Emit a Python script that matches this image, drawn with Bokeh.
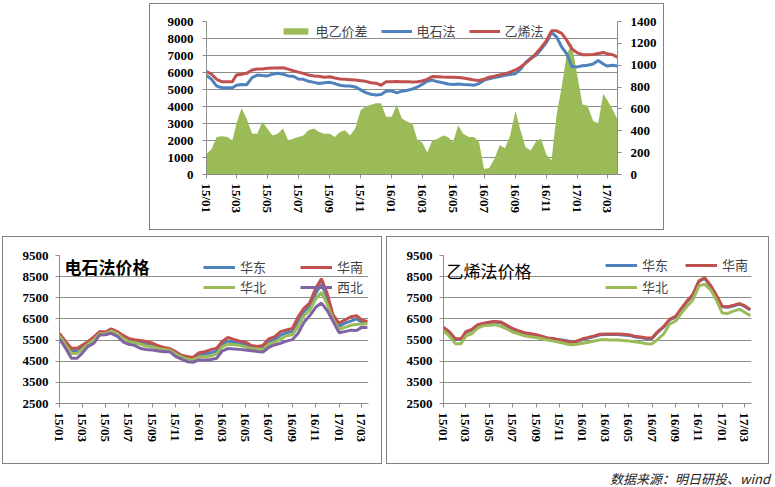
import pandas as pd
from bokeh.plotting import figure
from bokeh.models import (ColumnDataSource, LinearAxis, Range1d, DatetimeTickFormatter,
                          FixedTicker, Legend, LegendItem, Label, Div, Spacer)
from bokeh.layouts import column, row
from bokeh.embed import file_html
from bokeh.resources import INLINE

# ------------------------------------------------------------------ data
MONTHS = pd.date_range("2015-01-01", "2017-03-01", freq="MS")
TOP_DATES = [m + pd.Timedelta(days=k) for m in MONTHS for k in (0, 10, 20)]
LOW_DATES = [m + pd.Timedelta(days=k) for m in MONTHS for k in (0, 15)]
TICK_DATES = list(pd.date_range("2015-01-01", "2017-03-01", freq="2MS"))

# top chart: 电乙价差 (right axis), 电石法, 乙烯法
SPREAD = [187, 233, 342, 350, 342, 311, 467, 607, 513, 373, 373, 482,
          420, 358, 373, 420, 311, 327, 342, 358, 404, 420, 389, 373,
          373, 342, 389, 404, 358, 420, 591, 622, 638, 653, 653, 529,
          529, 638, 513, 482, 467, 311, 296, 202, 311, 327, 358, 342,
          296, 451, 373, 342, 342, 300, 50, 60, 140, 270, 240, 350,
          580, 400, 250, 220, 300, 330, 180, 130, 550, 800, 1100, 1200,
          900, 640, 630, 490, 470, 740, 680, 600, 500]
CARBIDE = [5820, 5600, 5200, 5100, 5100, 5100, 5250, 5300, 5280, 5700, 5850, 5820,
           5800, 5900, 5960, 5900, 5800, 5780, 5620, 5600, 5480, 5420, 5350, 5400,
           5420, 5350, 5250, 5200, 5200, 5150, 4980, 4820, 4720, 4680, 4700, 4900,
           4920, 4800, 4900, 4960, 5030, 5150, 5300, 5480, 5550, 5450, 5400, 5320,
           5300, 5330, 5300, 5280, 5250, 5350, 5550, 5630, 5700, 5760, 5830, 5880,
           5930, 6200, 6600, 6850, 7000, 7350, 7780, 8350, 8100, 7500, 7100, 6350,
           6330, 6400, 6430, 6500, 6700, 6500, 6380, 6420, 6380]
ETHYLENE = [6050, 5900, 5600, 5450, 5450, 5450, 5850, 5900, 5950, 6150, 6200, 6200,
            6250, 6270, 6270, 6280, 6200, 6100, 6020, 5950, 5850, 5800, 5780, 5720,
            5750, 5680, 5620, 5600, 5580, 5560, 5520, 5480, 5400, 5370, 5250, 5450,
            5450, 5470, 5450, 5450, 5440, 5460, 5500, 5600, 5760, 5750, 5730, 5720,
            5720, 5700, 5680, 5620, 5560, 5530, 5600, 5720, 5780, 5860, 5920, 6020,
            6150, 6320, 6550, 6800, 7100, 7450, 7880, 8450, 8450, 8300, 7900, 7390,
            7150, 7050, 7040, 7060, 7120, 7180, 7100, 7050, 6900]

# bottom-left: 电石法价格
CB_EAST = [5780, 5380, 5000, 5000, 5150, 5380, 5600, 5850, 5850, 5980, 5850, 5650,
           5500, 5450, 5380, 5320, 5260, 5170, 5100, 5060, 4900, 4740, 4660, 4620,
           4800, 4830, 4900, 4980, 5300, 5450, 5400, 5350, 5300, 5170, 5130, 5150,
           5430, 5530, 5730, 5850, 5900, 6400, 6850, 7100, 7700, 8150, 7500, 6600,
           6150, 6300, 6400, 6500, 6350, 6330]
CB_SOUTH = [5820, 5450, 5110, 5110, 5250, 5420, 5650, 5900, 5880, 6030, 5900, 5720,
            5580, 5520, 5480, 5430, 5350, 5230, 5150, 5100, 4950, 4780, 4720, 4680,
            4900, 4950, 5050, 5120, 5420, 5620, 5530, 5450, 5400, 5250, 5200, 5250,
            5550, 5650, 5900, 5980, 6050, 6600, 7000, 7250, 7950, 8400, 7700, 6700,
            6300, 6450, 6600, 6650, 6450, 6380]
CB_NORTH = [5700, 5300, 4870, 4870, 5050, 5300, 5500, 5800, 5800, 5930, 5800, 5580,
            5420, 5380, 5300, 5220, 5180, 5100, 5050, 5020, 4850, 4700, 4600, 4560,
            4700, 4720, 4750, 4850, 5180, 5300, 5280, 5250, 5180, 5100, 5080, 5050,
            5300, 5400, 5550, 5700, 5750, 6150, 6650, 6900, 7450, 7750, 7200, 6500,
            6000, 6100, 6200, 6250, 6250, 6280]
CB_NW = [5550, 5150, 4640, 4640, 4870, 5190, 5350, 5740, 5750, 5820, 5680, 5420,
         5300, 5250, 5100, 5050, 5030, 4980, 4950, 4950, 4720, 4600, 4480, 4450,
         4560, 4560, 4580, 4640, 4980, 5100, 5080, 5060, 5030, 5000, 4960, 4930,
         5150, 5270, 5350, 5450, 5520, 5820, 6330, 6650, 7050, 7250, 6900, 6400,
         5850, 5900, 5970, 5950, 6100, 6100]

# bottom-right: 乙烯法价格
ET_EAST = [6080, 5870, 5530, 5530, 5870, 5970, 6200, 6270, 6320, 6350, 6320, 6170,
           6020, 5920, 5820, 5780, 5720, 5650, 5580, 5550, 5520, 5480, 5430, 5430,
           5520, 5590, 5670, 5750, 5760, 5760, 5760, 5740, 5720, 5650, 5620, 5570,
           5570, 5870, 6120, 6450, 6590, 6970, 7320, 7620, 8270, 8420, 8070, 7620,
           7080, 7050, 7120, 7200, 7090, 6920]
ET_SOUTH = [6100, 5900, 5560, 5560, 5900, 6000, 6230, 6300, 6350, 6380, 6350, 6200,
            6050, 5950, 5850, 5810, 5750, 5680, 5600, 5570, 5510, 5460, 5400, 5440,
            5560, 5620, 5700, 5780, 5790, 5790, 5790, 5770, 5750, 5680, 5650, 5600,
            5600, 5900, 6150, 6480, 6620, 7000, 7350, 7650, 8300, 8450, 8100, 7650,
            7100, 7080, 7150, 7230, 7120, 6950]
ET_NORTH = [5950, 5700, 5330, 5330, 5700, 5800, 6070, 6180, 6200, 6230, 6150, 6030,
            5880, 5800, 5700, 5660, 5620, 5560, 5500, 5450, 5400, 5330, 5280, 5300,
            5350, 5400, 5460, 5510, 5510, 5500, 5500, 5480, 5460, 5420, 5380, 5330,
            5320, 5530, 5800, 6250, 6400, 6780, 7100, 7400, 8050, 8150, 7900, 7430,
            6780, 6760, 6880, 6960, 6820, 6650]

LEFT_TICKS = [0, 1000, 2000, 3000, 4000, 5000, 6000, 7000, 8000, 9000]
RIGHT_TICKS = [0, 200, 400, 600, 800, 1000, 1200, 1400]
LOW_TICKS = [2500, 3500, 4500, 5500, 6500, 7500, 8500, 9500]

# ------------------------------------------------------------------ style
BLUE, RED, GREEN, PURPLE = "#4F81BD", "#C0504D", "#9BBB59", "#8064A2"
GRID = "#8c8c8c"
NUM_FONT = "Liberation Serif"
CJK = "Noto Sans CJK SC"


def ms(ts):
    return pd.Timestamp(ts).value / 1e6


def style_axis(ax, standoff):
    ax.axis_line_color = GRID
    ax.major_tick_line_color = GRID
    ax.major_tick_in = 0
    ax.major_tick_out = 4
    ax.minor_tick_line_color = None
    ax.major_label_text_font = NUM_FONT
    ax.major_label_text_font_style = "bold"
    ax.major_label_text_font_size = "13px"
    ax.major_label_text_color = "black"
    ax.major_label_standoff = standoff


def make_fig(w, h, x_end, yr, yticks, borders, ystand):
    l, r, t, b = borders
    p = figure(width=w, height=h, x_axis_type="datetime",
               x_range=Range1d(ms("2015-01-01"), ms(x_end)),
               y_range=Range1d(*yr), output_backend="svg", toolbar_location=None,
               min_border_left=l, min_border_right=r, min_border_top=t,
               min_border_bottom=b,
               styles={"border": "1px solid #808080"})
    p.outline_line_color = None
    p.xgrid.visible = False
    p.ygrid.grid_line_color = GRID
    p.ygrid.grid_line_width = 1
    p.yaxis.ticker = FixedTicker(ticks=yticks)
    p.xaxis.ticker = FixedTicker(ticks=[ms(d) for d in TICK_DATES])
    fmt = "%y/%m"
    p.xaxis.formatter = DatetimeTickFormatter(years=fmt, months=fmt, days=fmt,
                                              hours=fmt, minutes=fmt)
    p.xaxis.major_label_orientation = "vertical"
    style_axis(p.xaxis[0], 5)
    style_axis(p.yaxis[0], ystand)
    return p


# ------------------------------------------------------------------ top chart
top_src = ColumnDataSource(dict(date=TOP_DATES, spread=SPREAD,
                                carbide=CARBIDE, ethylene=ETHYLENE))
top = make_fig(515, 227, "2017-03-21", (0, 9000), LEFT_TICKS, (56, 48, 17, 57), 9)
top.extra_y_ranges = {"right": Range1d(0, 1400)}
rax = LinearAxis(y_range_name="right", ticker=FixedTicker(ticks=RIGHT_TICKS))
style_axis(rax, 9)
top.add_layout(rax, "right")

r_area = top.varea(x="date", y1=0, y2="spread", source=top_src,
                   y_range_name="right", fill_color=GREEN)
r_cb = top.line(x="date", y="carbide", source=top_src, line_color=BLUE, line_width=3)
r_et = top.line(x="date", y="ethylene", source=top_src, line_color=RED, line_width=3)

top_leg = Legend(items=[LegendItem(label="电乙价差", renderers=[r_area]),
                        LegendItem(label="电石法", renderers=[r_cb]),
                        LegendItem(label="乙烯法", renderers=[r_et])],
                 location="top_center", orientation="horizontal",
                 glyph_width=31, glyph_height=8, label_standoff=5, spacing=13,
                 padding=0, margin=0, border_line_color=None,
                 background_fill_alpha=0, label_text_font=CJK,
                 label_text_font_size="13px", label_height=14)
top.add_layout(top_leg)


# ------------------------------------------------------------------ bottom charts
def legend_one(renderer, label, loc):
    return Legend(items=[LegendItem(label=label, renderers=[renderer])],
                  location=loc, orientation="horizontal",
                  glyph_width=32, glyph_height=6, label_standoff=5, spacing=0,
                  padding=0, margin=0, border_line_color=None,
                  background_fill_alpha=0, label_text_font=CJK,
                  label_text_font_size="13px", label_height=14)


cb_src = ColumnDataSource(dict(date=LOW_DATES, east=CB_EAST, south=CB_SOUTH,
                               north=CB_NORTH, nw=CB_NW))
bl = make_fig(380, 228, "2017-03-19", (2500, 9500), LOW_TICKS, (56, 15, 18, 62), 7)
l1 = bl.line(x="date", y="east", source=cb_src, line_color=BLUE, line_width=3)
l2 = bl.line(x="date", y="south", source=cb_src, line_color=RED, line_width=3)
l3 = bl.line(x="date", y="north", source=cb_src, line_color=GREEN, line_width=3)
l4 = bl.line(x="date", y="nw", source=cb_src, line_color=PURPLE, line_width=3)
bl.add_layout(legend_one(l1, "华东", (144, 127)))
bl.add_layout(legend_one(l2, "华南", (241, 127)))
bl.add_layout(legend_one(l3, "华北", (144, 107)))
bl.add_layout(legend_one(l4, "西北", (241, 107)))
bl.add_layout(Label(x=ms("2015-01-14"), y=8960, text="电石法价格",
                    text_baseline="middle", text_font=CJK, text_font_size="17px",
                    text_font_style="bold", text_color="black"))

et_src = ColumnDataSource(dict(date=LOW_DATES, east=ET_EAST, south=ET_SOUTH,
                               north=ET_NORTH))
br = make_fig(383, 228, "2017-03-19", (2500, 9500), LOW_TICKS, (56, 19, 16, 62), 7)
m1 = br.line(x="date", y="east", source=et_src, line_color=BLUE, line_width=3)
m2 = br.line(x="date", y="south", source=et_src, line_color=RED, line_width=3)
m3 = br.line(x="date", y="north", source=et_src, line_color=GREEN, line_width=3)
br.add_layout(legend_one(m1, "华东", (162, 129)))
br.add_layout(legend_one(m2, "华南", (242, 129)))
br.add_layout(legend_one(m3, "华北", (162, 107)))
br.add_layout(Label(x=ms("2015-01-09"), y=8800, text="乙烯法价格",
                    text_baseline="middle", text_font=CJK, text_font_size="17px",
                    text_color="black"))

src_note = Div(text="数据来源：明日研投、wind", width=775, height=20,
               styles={"font-size": "13px", "font-style": "italic",
                       "text-align": "right", "font-family": CJK,
                       "line-height": "16px", "padding-right": "10px",
                       "padding-top": "0px", "box-sizing": "border-box",
                       "color": "#222"})

layout = column(Spacer(width=10, height=3),
                row(Spacer(width=149, height=229), top),
                Spacer(width=10, height=4),
                row(Spacer(width=2, height=230), bl, Spacer(width=4, height=230), br),
                src_note, spacing=0)

open("out.html", "w").write(file_html(layout, INLINE))
